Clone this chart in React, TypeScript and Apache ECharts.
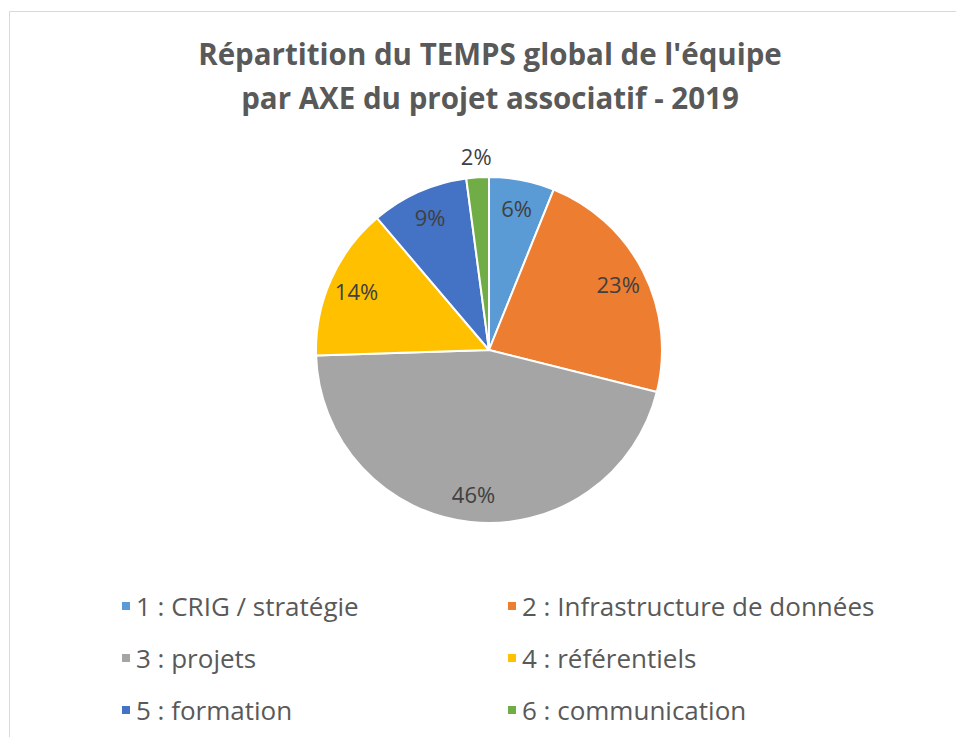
import React, { useEffect, useRef } from "react";
import * as echarts from "echarts";

const categories = [
  "1 : CRIG / stratégie",
  "2 : Infrastructure de données",
  "3 : projets",
  "4 : référentiels",
  "5 : formation",
  "6 : communication",
];
const values = [6.1, 22.8, 45.6, 14.3, 9.1, 2.1];
const colors = ["#5B9BD5", "#ED7D31", "#A5A5A5", "#FFC000", "#4472C4", "#70AD47"];
const titleLines = ["Répartition du TEMPS global de l'équipe", "par AXE du projet associatif - 2019"];

export default function App() {
  const ref = useRef<HTMLDivElement>(null);
  useEffect(() => {
    if (!ref.current) return;
    const chart = echarts.init(ref.current, null, { renderer: "svg" });
    const total = values.reduce((a, b) => a + b, 0);
    const pct = (v: number) => Math.round((v / total) * 100) + "%";
    const center = [489, 350];
    const R = 173;
    const mainData = categories.map((name, i) => ({ name, value: values[i], itemStyle: { color: colors[i] } }));
    const innerLabelData = categories.map((name, i) => ({
      name,
      value: values[i],
      label: { show: i !== 5 },
    }));
    const outerLabelData = categories.map((name, i) => ({
      name,
      value: values[i],
      label: { show: i === 5 },
    }));
    const labelFont = { fontFamily: "Open Sans, Noto Sans, sans-serif", fontSize: 22, color: "#404040" };
    const legendText = { fontFamily: "Open Sans, Noto Sans, sans-serif", fontSize: 26, color: "#595959", lineHeight: 30 };
    chart.setOption({
      animation: false,
      backgroundColor: "#ffffff",
      title: {
        text: titleLines.join("\n"),
        left: 485,
        textAlign: "center",
        top: 26,
        textStyle: {
          fontFamily: "Open Sans, Noto Sans, sans-serif",
          fontWeight: "bold",
          fontSize: 29.5,
          lineHeight: 44,
          color: "#595959",
        },
      },
      legend: [
        {
          orient: "vertical",
          left: 115,
          top: 586,
          itemWidth: 10,
          itemHeight: 10,
          itemGap: 22,
          itemTextGap: 9,
          icon: "rect",
          data: [categories[0], categories[2], categories[4]],
          textStyle: legendText,
          selectedMode: false,
        },
        {
          orient: "vertical",
          left: 501,
          top: 586,
          itemWidth: 10,
          itemHeight: 10,
          itemGap: 22,
          itemTextGap: 9,
          icon: "rect",
          data: [categories[1], categories[3], categories[5]],
          textStyle: legendText,
          selectedMode: false,
        },
      ],
      graphic: [
        {
          type: "rect",
          shape: { x: 9.5, y: 11.5, width: 1000, height: 1000 },
          style: { fill: "none", stroke: "#d9d9d9", lineWidth: 1 },
          silent: true,
        },
      ],
      series: [
        {
          type: "pie",
          center,
          radius: [0, R],
          startAngle: 90,
          clockwise: true,
          data: mainData,
          itemStyle: { borderColor: "#ffffff", borderWidth: 2 },
          label: { show: false },
          labelLine: { show: false },
          silent: true,
        },
        {
          type: "pie",
          center,
          radius: [111, R],
          startAngle: 90,
          clockwise: true,
          data: innerLabelData,
          itemStyle: { color: "rgba(0,0,0,0)" },
          label: { position: "inside", formatter: (p: any) => pct(p.value), ...labelFont },
          labelLine: { show: false },
          silent: true,
        },
        {
          type: "pie",
          center,
          radius: [R, 209],
          startAngle: 90,
          clockwise: true,
          data: outerLabelData,
          itemStyle: { color: "rgba(0,0,0,0)" },
          label: { position: "inside", formatter: (p: any) => pct(p.value), ...labelFont },
          labelLine: { show: false },
          silent: true,
        },
      ],
    });
    return () => chart.dispose();
  }, []);
  return <div ref={ref} style={{ position: "fixed", left: 0, top: 0, width: 956, height: 737 }} />;
}
